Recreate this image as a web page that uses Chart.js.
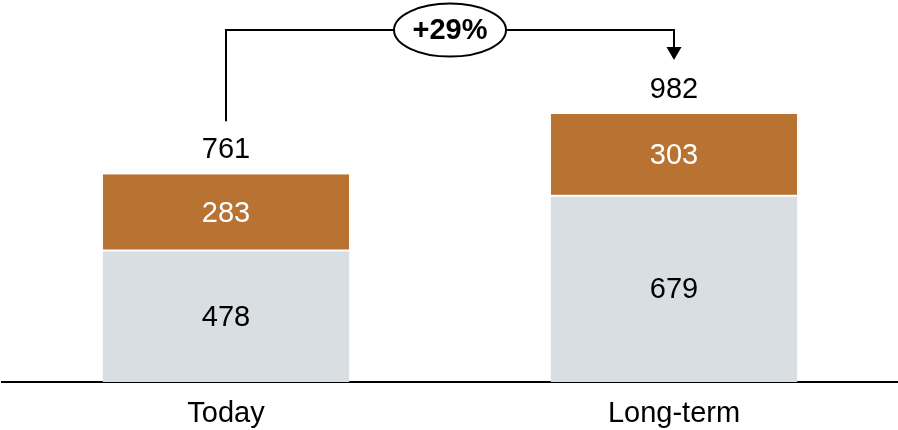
<!DOCTYPE html>
<html>
<head>
<meta charset="utf-8">
<script src="https://cdn.jsdelivr.net/npm/chart.js@4/dist/chart.umd.min.js"></script>
<style>
	html, body { margin: 0; padding: 0; background: #fff; }
	#wrap { width: 898px; height: 430px; position: relative; }
</style>
</head>
<body>
<div id="wrap"><canvas id="chart"></canvas></div>
<script>
const categories = ['Today', 'Long-term'];
const baseValues = [478, 679];
const upperValues = [283, 303];
const growthLabel = '+29%';

const FONT = "'Liberation Sans', Arial, sans-serif";
const ORANGE = '#b87333';
const GREY = '#d9dee2';

const totals = categories.map((c, i) => baseValues[i] + upperValues[i]);

// numbers inside each segment plus the total above each stack
const valueLabels = {
	id: 'valueLabels',
	afterDatasetsDraw(chart) {
		const ctx = chart.ctx;
		ctx.save();
		ctx.font = `29px ${FONT}`;
		ctx.textAlign = 'center';
		ctx.textBaseline = 'middle';
		chart.data.datasets.forEach((ds, di) => {
			const meta = chart.getDatasetMeta(di);
			meta.data.forEach((bar, i) => {
				ctx.fillStyle = ds.labelColor;
				ctx.fillText(ds.data[i], bar.x, (bar.y + bar.base) / 2 + 1);
			});
		});
		const top = chart.getDatasetMeta(chart.data.datasets.length - 1);
		ctx.fillStyle = '#000';
		top.data.forEach((bar, i) => {
			ctx.fillText(totals[i], bar.x, bar.y - 24);
		});
		ctx.restore();
	}
};

// bracket arrow from the first total to the second with the growth badge
const growthArrow = {
	id: 'growthArrow',
	afterDatasetsDraw(chart) {
		const ctx = chart.ctx;
		const bars = chart.getDatasetMeta(chart.data.datasets.length - 1).data;
		const a = bars[0], b = bars[1];
		const lineY = Math.min(a.y, b.y) - 84;
		const tipY = b.y - 54;
		ctx.save();
		ctx.strokeStyle = '#000';
		ctx.lineWidth = 2;
		ctx.beginPath();
		ctx.moveTo(a.x, a.y - 53);
		ctx.lineTo(a.x, lineY);
		ctx.lineTo(b.x, lineY);
		ctx.lineTo(b.x, tipY - 12);
		ctx.stroke();
		ctx.fillStyle = '#000';
		ctx.beginPath();
		ctx.moveTo(b.x - 7.5, tipY - 13);
		ctx.lineTo(b.x + 7.5, tipY - 13);
		ctx.lineTo(b.x, tipY);
		ctx.closePath();
		ctx.fill();

		const cx = (a.x + b.x) / 2;
		ctx.beginPath();
		ctx.ellipse(cx, lineY, 56, 26.5, 0, 0, Math.PI * 2);
		ctx.fillStyle = '#fff';
		ctx.fill();
		ctx.lineWidth = 2;
		ctx.stroke();
		ctx.fillStyle = '#000';
		ctx.font = `bold 29px ${FONT}`;
		ctx.textAlign = 'center';
		ctx.textBaseline = 'middle';
		ctx.fillText(growthLabel, cx, lineY + 1);
		ctx.restore();
	}
};

new Chart(document.getElementById('chart'), {
	type: 'bar',
	data: {
		labels: categories,
		datasets: [{
			data: baseValues,
			backgroundColor: GREY,
			labelColor: '#000',
			borderWidth: 0,
			categoryPercentage: 1,
			barPercentage: 0.55
		}, {
			data: upperValues,
			backgroundColor: ORANGE,
			labelColor: '#fff',
			borderColor: '#fff',
			borderSkipped: false,
			borderWidth: { top: 0, left: 0, right: 0, bottom: 2 },
			categoryPercentage: 1,
			barPercentage: 0.55
		}]
	},
	options: {
		responsive: true,
		maintainAspectRatio: false,
		animation: false,
		layout: { padding: { top: 0, left: 2, right: 0, bottom: 0 } },
		plugins: {
			legend: { display: false },
			tooltip: { enabled: false }
		},
		scales: {
			x: {
				stacked: true,
				grid: { display: false, drawTicks: false },
				border: { display: true, color: '#000', width: 2 },
				afterFit: scale => { scale.height = 48; },
				ticks: {
					color: '#000',
					padding: 15,
					font: { family: FONT, size: 29 }
				}
			},
			y: {
				stacked: true,
				display: false,
				min: 0,
				max: 1400
			}
		}
	},
	plugins: [valueLabels, growthArrow]
});
</script>
</body>
</html>
